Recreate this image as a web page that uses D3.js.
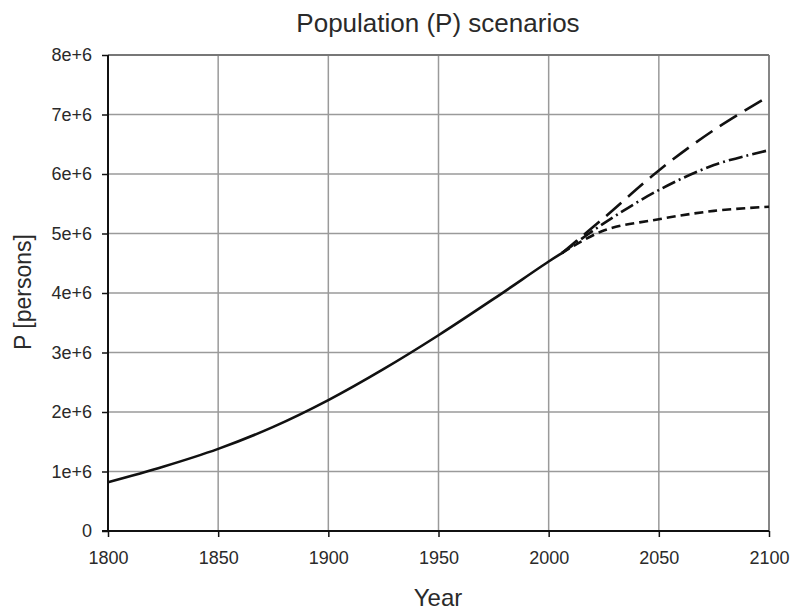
<!DOCTYPE html>
<html><head><meta charset="utf-8">
<script src="https://cdn.jsdelivr.net/npm/d3@7"></script>
<style>body{margin:0;background:#fff}svg{display:block}text{font-family:"Liberation Sans",Arial,sans-serif;fill:#2a2a2a}</style>
</head><body><svg id="c" width="795" height="613"></svg>
<script>
const histYears = [1800,1825,1850,1875,1900,1925,1950,1975,2000,2006];
const histValues = [0.82e6,1.08e6,1.38e6,1.75e6,2.20e6,2.72e6,3.29e6,3.90e6,4.53e6,4.67e6];
const scenYears = [2006,2025,2050,2075,2100];
const lowValues = [4.67e6,5.05e6,5.24e6,5.38e6,5.45e6];
const midValues = [4.67e6,5.17e6,5.73e6,6.15e6,6.40e6];
const highValues = [4.67e6,5.26e6,6.06e6,6.74e6,7.31e6];
const xTicks = [1800,1850,1900,1950,2000,2050,2100];
const yTicks = [0,1e6,2e6,3e6,4e6,5e6,6e6,7e6,8e6];
const yTickLabels = ["0","1e+6","2e+6","3e+6","4e+6","5e+6","6e+6","7e+6","8e+6"];

const svg = d3.select("#c");
const L=108,R=769,T=55,B=531;
const x = d3.scaleLinear().domain([1800,2100]).range([L,R]);
const y = d3.scaleLinear().domain([0,8e6]).range([B,T]);

// grid
svg.append("g").selectAll("line").data(xTicks.slice(1)).join("line")
  .attr("x1",d=>x(d)).attr("x2",d=>x(d)).attr("y1",T).attr("y2",B)
  .attr("stroke","#9a9a9a").attr("stroke-width",1.5);
svg.append("g").selectAll("line").data(yTicks.slice(1)).join("line")
  .attr("x1",L).attr("x2",R).attr("y1",d=>y(d)).attr("y2",d=>y(d))
  .attr("stroke","#9a9a9a").attr("stroke-width",1.5);
svg.append("line").attr("x1",L).attr("x2",R).attr("y1",T).attr("y2",T).attr("stroke","#777").attr("stroke-width",2);
svg.append("line").attr("x1",R).attr("x2",R).attr("y1",T).attr("y2",B).attr("stroke","#777").attr("stroke-width",1.5);

// axes
const yAxis = d3.axisLeft(y).tickValues(yTicks).tickFormat((d,i)=>yTickLabels[i]).tickSize(6).tickPadding(10);
const gy = svg.append("g").attr("transform",`translate(${L},0)`).call(yAxis);
const xAxis = d3.axisBottom(x).tickValues(xTicks).tickFormat(d3.format("d")).tickSize(6).tickPadding(14);
const gx = svg.append("g").attr("transform",`translate(0,${B})`).call(xAxis);
[gx,gy].forEach(g=>{
  g.select(".domain").attr("stroke","#111").attr("stroke-width",2);
  g.selectAll(".tick line").attr("stroke","#111").attr("stroke-width",1.5);
  g.selectAll("text").attr("font-size",18).attr("fill","#333").style("font-family","Liberation Sans, Arial, sans-serif");
});
gx.select(".domain").attr("d",`M${L-6},0H${R}`);
gy.select(".domain").attr("d",`M0,${T}V${B}`);

// lines
const line = d3.line().curve(d3.curveCatmullRom.alpha(0.5));
function draw(xs, vs, dash){
  svg.append("path").attr("d", line(xs.map((t,i)=>[x(t),y(vs[i])])))
    .attr("fill","none").attr("stroke","#111").attr("stroke-width",2.6)
    .attr("stroke-dasharray",dash);
}
draw(histYears,histValues,null);
draw(scenYears,lowValues,"9,5");
draw(scenYears,midValues,"14,4,2,4");
draw(scenYears,highValues,"20,9");

// labels
svg.append("text").attr("x",438).attr("y",32).attr("text-anchor","middle").attr("font-size",26).text("Population (P) scenarios");
svg.append("text").attr("x",438).attr("y",606).attr("text-anchor","middle").attr("font-size",24).text("Year");
svg.append("text").attr("transform","translate(31,292) rotate(-90)").attr("text-anchor","middle").attr("font-size",23).text("P [persons]");
</script></body></html>
